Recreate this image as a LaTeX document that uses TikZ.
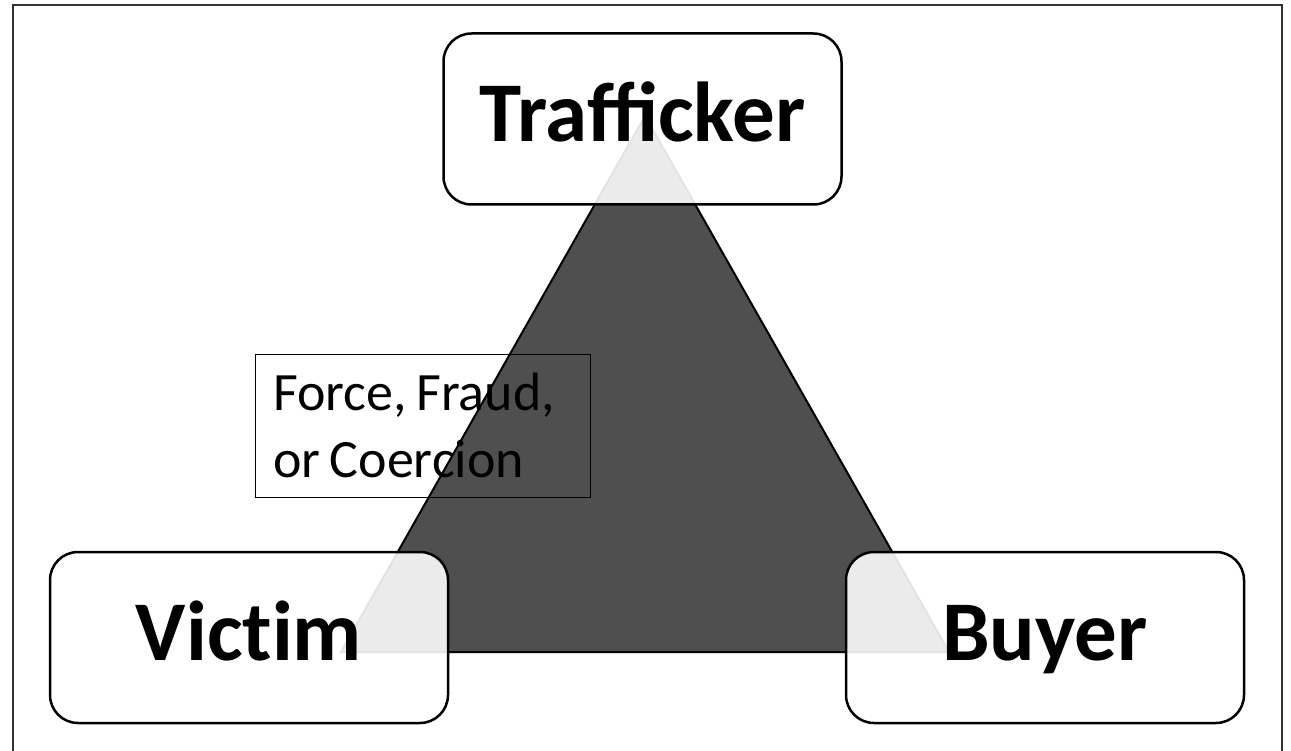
\documentclass[tikz,border=0pt]{standalone}
\usepackage{fontspec}
\setmainfont{Carlito}
\newcommand{\narrowspaces}{\spaceskip=0.17em\relax}
\begin{document}
\begin{tikzpicture}[x=1pt,y=-1pt,
  frame/.style={draw=black!80, line width=1.5pt},
  tri/.style={fill=black!69, draw=black, line width=2pt},
  party/.style={draw=black, line width=2.5pt, rounded corners=28pt,
    fill=white, fill opacity=0.89, text opacity=1,
    minimum width=398pt, minimum height=171pt, inner sep=0pt,
    font=\fontsize{85}{100}\selectfont\bfseries,
    text height=54pt, text depth=9pt},
  means/.style={draw=black, line width=0.8pt, anchor=north west,
    minimum width=335pt, minimum height=143pt,
    text width=299pt, inner xsep=18pt, align=left,
    font=\fontsize{54}{67}\selectfont}]
\useasboundingbox (0,0) rectangle (1291,751);
% outer frame
\draw[frame] (13,5) rectangle (1282,760);
% the triangle linking the three parties
\filldraw[tri] (645,116) -- (341,652) -- (949,652) -- cycle;
% parties
\node[party] (trafficker) at (642.5,119) {Trafficker};
\node[party] (victim) at (249,637.5) {Vict\kern0pt im};
\node[party] (buyer) at (1045,637.5) {Buyer};
% means label
\node[means] (force) at (255,354) {\narrowspaces Force, Fraud,\\or Coercion};
\end{tikzpicture}
\end{document}
